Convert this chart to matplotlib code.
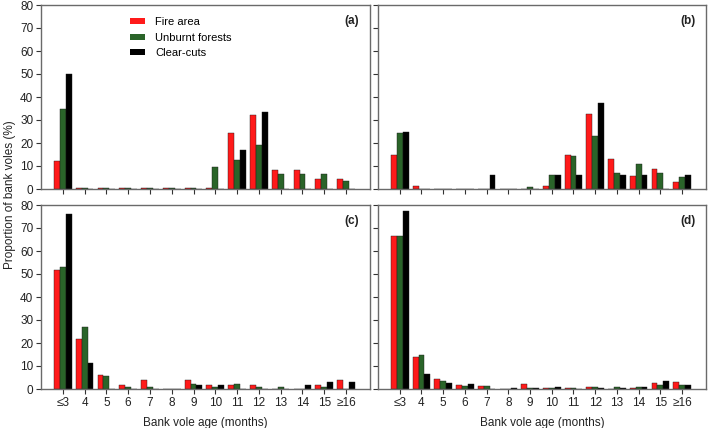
import matplotlib
matplotlib.use("Agg")
import matplotlib.pyplot as plt
import numpy as np
from matplotlib.patches import Patch

# Age classes (months)
ages = ['≤3', '4', '5', '6', '7', '8', '9', '10', '11', '12', '13', '14', '15', '≥16']
series_names = ['Fire area', 'Unburnt forests', 'Clear-cuts']

# (a)
a_fire = [12.2, 0.3, 0.3, 0.3, 0.3, 0.3, 0.3, 0.3, 24.2, 32.2, 8.3, 8.3, 4.2, 4.2]
a_unburnt = [34.6, 0.3, 0.3, 0.3, 0.3, 0.3, 0.3, 9.7, 12.8, 19.0, 6.7, 6.7, 6.7, 3.5]
a_clear = [50.2, 0, 0, 0, 0, 0, 0, 0, 17.0, 33.5, 0, 0, 0, 0]

# (b)
b_fire = [14.8, 1.4, 0, 0, 0, 0, 0, 1.4, 14.8, 32.5, 13.2, 5.8, 8.7, 2.9]
b_unburnt = [24.2, 0, 0, 0, 0, 0, 0.9, 6.2, 14.3, 23.2, 7.1, 10.7, 7.1, 5.2]
b_clear = [25.0, 0, 0, 0, 6.2, 0, 0, 6.2, 6.2, 37.5, 6.2, 6.2, 0, 6.2]

# (c)
c_fire = [51.6, 21.8, 5.9, 1.9, 3.9, 0, 3.9, 1.9, 1.9, 1.9, 0, 0, 1.9, 3.9]
c_unburnt = [53.0, 27.1, 5.6, 1.0, 1.0, 0, 2.2, 1.0, 2.2, 1.0, 1.0, 0, 1.0, 0]
c_clear = [76.0, 11.5, 0, 0, 0, 0, 1.6, 1.6, 0, 0, 0, 1.6, 3.2, 3.2]

# (d)
d_fire = [66.4, 13.8, 4.3, 1.9, 1.4, 0.1, 2.3, 0.3, 0.5, 0.8, 0.2, 0.4, 2.6, 3.2]
d_unburnt = [66.4, 15.0, 3.6, 1.4, 1.4, 0, 0.5, 0.5, 0.6, 1.0, 1.0, 0.7, 1.9, 1.9]
d_clear = [77.3, 6.7, 2.6, 2.2, 0, 0.6, 0.5, 1.0, 0, 0.6, 0.6, 1.0, 3.5, 1.6]

colors = ['#ff1a1a', '#2a6429', '#000000']

W, H = 709, 428
fig = plt.figure(figsize=(W / 100, H / 100), dpi=100)
plt.rcParams['font.family'] = ['Liberation Sans', 'DejaVu Sans']


def px_axes(x0, y0, x1, y1):
    return fig.add_axes([x0 / W, 1 - y1 / H, (x1 - x0) / W, (y1 - y0) / H])


panels = [
    ('(a)', (41, 5, 370, 189), [a_fire, a_unburnt, a_clear], True, False),
    ('(b)', (378, 5, 706, 189), [b_fire, b_unburnt, b_clear], False, False),
    ('(c)', (41, 205, 370, 389), [c_fire, c_unburnt, c_clear], True, True),
    ('(d)', (378, 205, 706, 389), [d_fire, d_unburnt, d_clear], False, True),
]

x = np.arange(len(ages))
bw = 0.27
frame = '#6a6a6a'

for label, box, data, left, bottom in panels:
    ax = px_axes(*box)
    for k, vals in enumerate(data):
        ax.bar(x + (k - 1) * bw, vals, width=bw, color=colors[k],
               edgecolor='#1a1a1a', linewidth=0.3)
    ax.set_xlim(-1.0, 14.1)
    ax.set_ylim(0, 80)
    ax.set_yticks(np.arange(0, 81, 10))
    ax.set_xticks(x)
    for s in ax.spines.values():
        s.set_color(frame)
        s.set_linewidth(1.0)
    ax.tick_params(direction='out', length=3.5, width=0.8, color='#333333',
                   labelsize=8.5, pad=2, colors='#222222')
    ax.tick_params(axis='y', labelleft=left)
    if bottom:
        ax.set_xticklabels(ages)
        ax.set_xlabel('Bank vole age (months)', fontsize=8.5, labelpad=6, color='#222222')
    else:
        ax.set_xticklabels([])
    ax.text(0.968, 0.912, label, transform=ax.transAxes, ha='right', va='center',
            fontsize=8.5, fontweight='bold', color='#222222')
    if label == '(a)':
        handles = [Patch(facecolor=c, edgecolor='none') for c in colors]
        ax.legend(handles, series_names, loc='upper left', bbox_to_anchor=(0.25, 0.97),
                  frameon=False, fontsize=8, handlelength=1.4, handleheight=0.45,
                  handletextpad=0.9, labelspacing=0.5, borderaxespad=0.2)

fig.text(0.014, 0.545, 'Proportion of bank voles (%)', rotation=90, ha='center',
         va='center', fontsize=8.5, color='#222222')

fig.savefig('out.png', dpi=100)
